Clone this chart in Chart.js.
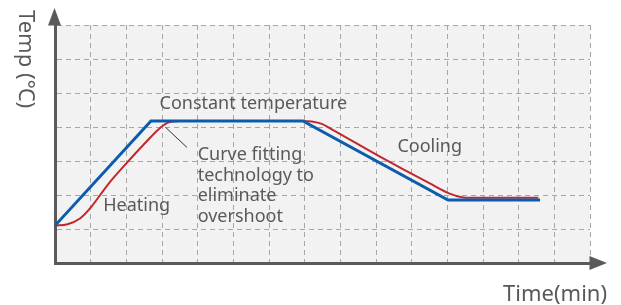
<!DOCTYPE html>
<html>
<head>
<meta charset="utf-8">
<script src="https://cdn.jsdelivr.net/npm/chart.js@4/dist/chart.umd.min.js"></script>
<style>
  html, body { margin: 0; padding: 0; background: #ffffff; }
  #wrap { width: 621px; height: 305px; position: relative; }
</style>
</head>
<body>
<div id="wrap"><canvas id="c" width="621" height="305"></canvas></div>
<script>
// ---- data (time in grid units, temperature in grid units) ----
const setTempX = [0, 2.69, 6.95, 11.02, 13.6];
const setTempY = [1.1, 4.18, 4.18, 1.85, 1.85];

const actualTempX = [0, 0.35, 0.7, 1.0, 1.5, 2.0, 2.5, 2.9, 3.15, 3.5, 6.95, 7.2, 7.48, 7.71, 9.11, 10.51, 11.07, 11.45, 11.8, 13.55];
const actualTempY = [1.1, 1.14, 1.31, 1.63, 2.33, 2.93, 3.5, 3.93, 4.12, 4.18, 4.18, 4.16, 4.09, 3.96, 3.13, 2.34, 2.04, 1.93, 1.92, 1.92];

const xRange = [0, 15];
const yRange = [0, 7];

const labels = {
  xTitle: 'Time(min)',
  yTitle: 'Temp (℃)',
  constant: 'Constant temperature',
  heating: 'Heating',
  cooling: 'Cooling',
  fitting: ['Curve fitting', 'technology to', 'eliminate', 'overshoot']
};

// annotation anchors in data units
const notes = [
  { lines: [labels.constant], x: 2.93, y: 4.53 },
  { lines: [labels.heating], x: 1.35, y: 1.52 },
  { lines: [labels.cooling], x: 9.6, y: 3.27 },
  { lines: labels.fitting, x: 4.0, y: 3.03 }
];

const toPts = (xs, ys) => xs.map((x, i) => ({ x: x, y: ys[i] }));

const textColor = '#595959';
const font = '"Noto Sans", "Open Sans", sans-serif';

const decor = {
  id: 'decor',
  beforeDraw(chart) {
    const { ctx, chartArea: a } = chart;
    ctx.save();
    ctx.fillStyle = '#f2f2f2';
    ctx.fillRect(a.left, a.top, a.right - a.left, a.bottom - a.top);
    ctx.restore();
  },
  afterDraw(chart) {
    const { ctx, chartArea: a, scales } = chart;
    const xs = scales.x, ys = scales.y;
    ctx.save();
    // arrows
    ctx.fillStyle = '#5a5a5a';
    ctx.beginPath();
    ctx.moveTo(a.left - 0.5, 8);
    ctx.lineTo(a.left - 7, a.top + 0.5);
    ctx.lineTo(a.left + 6, a.top + 0.5);
    ctx.closePath();
    ctx.fill();
    ctx.beginPath();
    ctx.moveTo(607, a.bottom);
    ctx.lineTo(a.right - 0.5, a.bottom - 7);
    ctx.lineTo(a.right - 0.5, a.bottom + 7);
    ctx.closePath();
    ctx.fill();

    // leader line
    ctx.strokeStyle = '#333333';
    ctx.lineWidth = 1;
    ctx.beginPath();
    ctx.moveTo(xs.getPixelForValue(3.1), ys.getPixelForValue(3.99));
    ctx.lineTo(xs.getPixelForValue(3.7), ys.getPixelForValue(3.4));
    ctx.stroke();

    // annotations
    ctx.fillStyle = textColor;
    ctx.font = '18px ' + font;
    ctx.textAlign = 'left';
    ctx.textBaseline = 'alphabetic';
    notes.forEach(n => {
      const px = xs.getPixelForValue(n.x);
      const py = ys.getPixelForValue(n.y);
      n.lines.forEach((t, i) => ctx.fillText(t, px, py + i * 20.7));
    });

    // axis titles
    ctx.font = '22px ' + font;
    ctx.textAlign = 'right';
    ctx.fillText(labels.xTitle, 607, 301);
    ctx.translate(25, 10);
    ctx.rotate(Math.PI / 2);
    ctx.textAlign = 'left';
    ctx.textBaseline = 'middle';
    ctx.fillText(labels.yTitle, 0, 0);
    ctx.restore();
  }
};

const gridOpts = { color: '#a6a6a6', lineWidth: 1, drawTicks: false };

new Chart(document.getElementById('c'), {
  type: 'scatter',
  data: {
    datasets: [
      {
        label: 'Set temperature',
        data: toPts(setTempX, setTempY),
        showLine: true,
        borderColor: '#0b5cad',
        borderWidth: 3,
        pointRadius: 0,
        tension: 0
      },
      {
        label: 'Actual temperature',
        data: toPts(actualTempX, actualTempY),
        showLine: true,
        borderColor: '#c1272d',
        borderWidth: 2,
        pointRadius: 0,
        cubicInterpolationMode: 'monotone'
      }
    ]
  },
  options: {
    responsive: false,
    animation: false,
    events: [],
    layout: { padding: { left: 55, right: 31, top: 25, bottom: 42 } },
    plugins: { legend: { display: false }, tooltip: { enabled: false } },
    scales: {
      x: {
        type: 'linear', min: xRange[0], max: xRange[1],
        ticks: { display: false, stepSize: 1 },
        grid: gridOpts,
        border: { display: true, color: '#5a5a5a', width: 3, dash: [5, 4] }
      },
      y: {
        type: 'linear', min: yRange[0], max: yRange[1],
        ticks: { display: false, stepSize: 1 },
        grid: gridOpts,
        border: { display: true, color: '#5a5a5a', width: 3, dash: [5, 4] }
      }
    }
  },
  plugins: [decor]
});
</script>
</body>
</html>
